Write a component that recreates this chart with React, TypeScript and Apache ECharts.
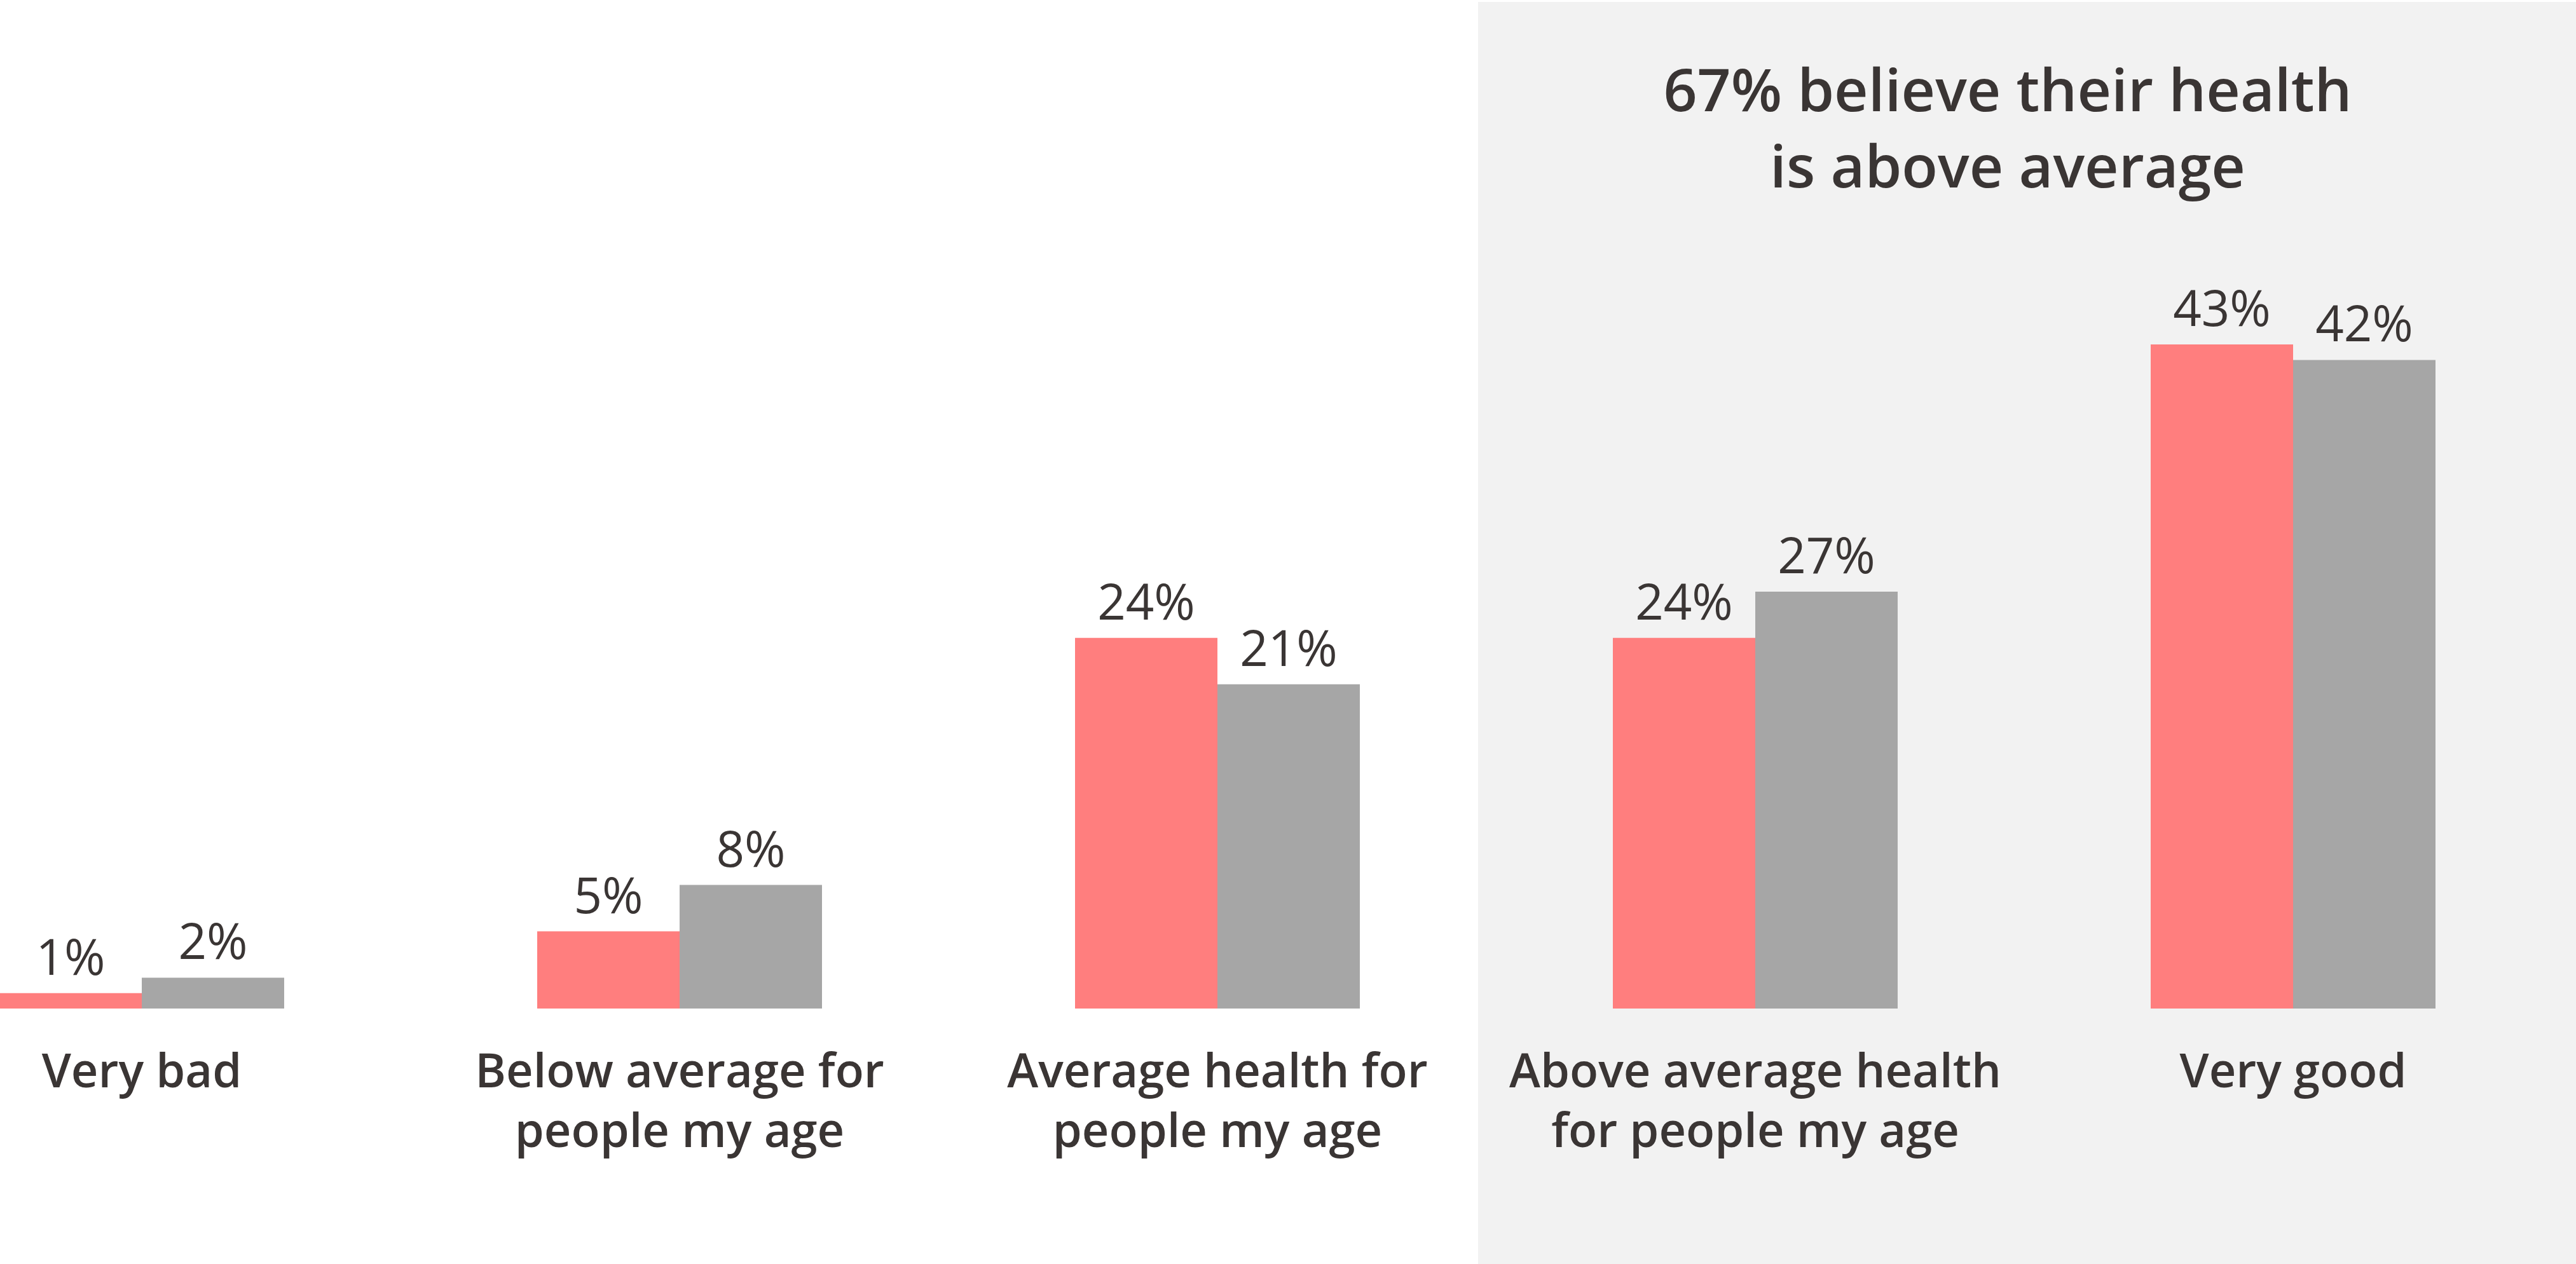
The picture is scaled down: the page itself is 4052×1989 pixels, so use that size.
import React, { useEffect, useRef } from "react";
import * as echarts from "echarts";

const categories = [
  "Very bad",
  "Below average for\npeople my age",
  "Average health for\npeople my age",
  "Above average health\nfor people my age",
  "Very good",
];
const seriesA = [1, 5, 24, 24, 43];
const seriesB = [2, 8, 21, 27, 42];
const titleLines = ["67% believe their health", "is above average"];

const TEXT = "#3a3534";
const FONT = "'Open Sans', 'Noto Sans', sans-serif";

export default function App() {
  const ref = useRef<HTMLDivElement>(null);
  useEffect(() => {
    if (!ref.current) return;
    const chart = echarts.init(ref.current, undefined, { renderer: "svg" });
    const label = {
      show: true,
      position: "top",
      distance: 20,
      formatter: "{c}%",
      color: TEXT,
      fontFamily: FONT,
      fontSize: 78,
      fontWeight: 400,
    };
    chart.setOption({
      animation: false,
      backgroundColor: "#ffffff",
      graphic: [
        {
          type: "rect",
          z: -10,
          silent: true,
          shape: { x: 2325, y: 3, width: 1727, height: 1986 },
          style: { fill: "#f2f2f2" },
        },
        ...titleLines.map((t, i) => ({
          type: "text",
          x: 3158,
          y: 92 + i * 120,
          style: {
            text: t,
            fill: TEXT,
            font: `600 93px ${FONT}`,
            textAlign: "center",
            textVerticalAlign: "top",
          },
        })),
      ],
      grid: {
        left: -200,
        right: 22,
        top: 372,
        bottom: 402,
        containLabel: false,
        outerBoundsMode: "none",
      },
      xAxis: {
        type: "category",
        data: categories,
        axisLine: { show: false },
        axisTick: { show: false },
        axisLabel: {
          interval: 0,
          margin: 48,
          color: TEXT,
          fontFamily: FONT,
          fontSize: 74,
          fontWeight: 600,
          lineHeight: 94,
        },
      },
      yAxis: {
        type: "value",
        min: 0,
        max: 50,
        show: false,
        splitLine: { show: false },
      },
      series: [
        {
          type: "bar",
          data: seriesA,
          barWidth: 224,
          barGap: "0%",
          itemStyle: { color: "#ff7e7e" },
          label,
        },
        {
          type: "bar",
          data: seriesB,
          barWidth: 224,
          barGap: "0%",
          itemStyle: { color: "#a6a6a6" },
          label,
        },
      ],
    });
    return () => chart.dispose();
  }, []);
  return (
    <div
      ref={ref}
      style={{ position: "fixed", left: 0, top: 0, width: 4052, height: 1989 }}
    />
  );
}
